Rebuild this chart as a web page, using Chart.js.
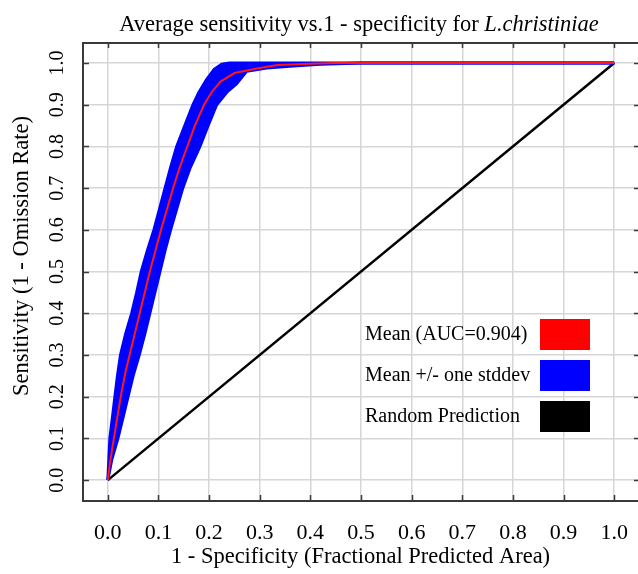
<!DOCTYPE html>
<html>
<head>
<meta charset="utf-8">
<script src="https://cdn.jsdelivr.net/npm/chart.js@4.4.0/dist/chart.umd.min.js"></script>
<style>
  html, body { margin: 0; padding: 0; background: #fff; }
  #wrap { width: 638px; height: 574px; }
</style>
</head>
<body>
<div id="wrap"><canvas id="roc_Chart" width="638" height="574"></canvas></div>
<script>
// tick values on both axes
const xTicks = [0, 0.1, 0.2, 0.3, 0.4, 0.5, 0.6, 0.7, 0.8, 0.9, 1.0];
const yTicks = [0, 0.1, 0.2, 0.3, 0.4, 0.5, 0.6, 0.7, 0.8, 0.9, 1.0];

// mean ROC curve (1 - specificity, sensitivity)
const meanX = [0, 0.004, 0.012, 0.02, 0.027, 0.035, 0.043, 0.053, 0.063, 0.073, 0.083, 0.094, 0.105, 0.117, 0.129, 0.142, 0.157, 0.172, 0.19, 0.205, 0.222, 0.25, 0.3, 0.335, 0.4, 0.45, 1.0];
const meanY = [0, 0.04, 0.1, 0.16, 0.21, 0.26, 0.3, 0.35, 0.4, 0.45, 0.5, 0.55, 0.6, 0.65, 0.7, 0.75, 0.8, 0.85, 0.9, 0.93, 0.955, 0.976, 0.988, 0.995, 0.998, 1.0, 1.0];

// mean + one stddev (left edge of the band)
const upperX = [0, 0.002, 0.004, 0.009, 0.014, 0.019, 0.025, 0.035, 0.047, 0.057, 0.066, 0.078, 0.091, 0.102, 0.113, 0.124, 0.136, 0.152, 0.168, 0.18, 0.195, 0.21, 0.225, 0.24, 1.0];
const upperY = [0, 0.05, 0.1, 0.15, 0.2, 0.25, 0.3, 0.35, 0.4, 0.45, 0.5, 0.55, 0.6, 0.65, 0.7, 0.75, 0.8, 0.85, 0.9, 0.93, 0.96, 0.985, 0.997, 1.0, 1.0];

// mean - one stddev (right edge of the band)
const lowerX = [0, 0.008, 0.02, 0.03, 0.04, 0.05, 0.062, 0.073, 0.083, 0.093, 0.103, 0.113, 0.124, 0.136, 0.148, 0.163, 0.182, 0.198, 0.215, 0.235, 0.254, 0.274, 0.314, 0.366, 0.42, 0.5, 1.0];
const lowerY = [0, 0.05, 0.1, 0.15, 0.2, 0.25, 0.3, 0.35, 0.4, 0.45, 0.5, 0.55, 0.6, 0.65, 0.7, 0.75, 0.8, 0.85, 0.9, 0.93, 0.95, 0.98, 0.988, 0.993, 0.997, 1.0, 1.0];

// random prediction
const randomX = [0, 1];
const randomY = [0, 1];

const seriesLabels = ['Mean (AUC=0.904)', 'Mean +/- one stddev', 'Random Prediction'];
const titleText = 'Average sensitivity vs.1 - specificity for ';
const titleSpecies = 'L.christiniae';
const xTitle = '1 - Specificity (Fractional Predicted Area)';
const yTitle = 'Sensitivity (1 - Omission Rate)';

const FONT = "'Liberation Serif', 'Times New Roman', serif";

const toPoints = (xs, ys) => xs.map((x, i) => ({x: x, y: ys[i]}));

// frame, inner tick marks, titles and legend
const rocDecor = {
  id: 'rocDecor',
  afterDraw(chart) {
    const ctx = chart.ctx;
    const a = chart.chartArea;
    const sx = chart.scales.x, sy = chart.scales.y;
    ctx.save();
    ctx.strokeStyle = '#3a3a3a';
    ctx.lineWidth = 2;
    ctx.beginPath();
    ctx.moveTo(a.left - 1, a.top);
    ctx.lineTo(a.right, a.top);
    ctx.stroke();

    ctx.lineWidth = 1.5;
    ctx.beginPath();
    xTicks.forEach(v => {
      const px = Math.round(sx.getPixelForValue(v)) + 0.5;
      ctx.moveTo(px, a.bottom); ctx.lineTo(px, a.bottom - 6);
      ctx.moveTo(px, a.top); ctx.lineTo(px, a.top + 5);
    });
    yTicks.forEach(v => {
      const py = Math.round(sy.getPixelForValue(v)) + 0.5;
      ctx.moveTo(a.left, py); ctx.lineTo(a.left + 6, py);
      ctx.moveTo(a.right, py); ctx.lineTo(a.right - 4, py);
    });
    ctx.stroke();

    // title with italic species name
    ctx.fillStyle = '#000';
    ctx.textBaseline = 'alphabetic';
    ctx.textAlign = 'left';
    ctx.font = '22.5px ' + FONT;
    const w1 = ctx.measureText(titleText).width;
    ctx.font = 'italic 22.5px ' + FONT;
    const w2 = ctx.measureText(titleSpecies).width;
    let tx = 359 - (w1 + w2) / 2;
    ctx.font = '22.5px ' + FONT;
    ctx.fillText(titleText, tx, 31);
    ctx.font = 'italic 22.5px ' + FONT;
    ctx.fillText(titleSpecies, tx + w1, 31);

    // y axis title
    ctx.save();
    ctx.translate(22, 256);
    ctx.rotate(-Math.PI / 2);
    ctx.font = '22.5px ' + FONT;
    ctx.textAlign = 'center';
    ctx.textBaseline = 'middle';
    ctx.fillText(yTitle, 0, 0);
    ctx.restore();

    // legend: text then colour box
    const items = chart.data.datasets.filter(d => d.label);
    ctx.font = '20px ' + FONT;
    ctx.textAlign = 'left';
    ctx.textBaseline = 'middle';
    items.forEach((d, i) => {
      const cy = 335 + i * 41;
      ctx.fillStyle = '#000';
      ctx.fillText(d.label, 365, cy);
      ctx.fillStyle = d.legendColor;
      ctx.fillRect(540, cy - 16, 50, 31);
    });
    ctx.restore();
  }
};

const ctx_roc = document.getElementById('roc_Chart').getContext('2d');
const myChartRoc = new Chart(ctx_roc, {
  type: 'line',
  data: {
    datasets: [{
      label: seriesLabels[0],
      legendColor: '#ff0000',
      data: toPoints(meanX, meanY),
      borderColor: '#ff1818',
      borderWidth: 2,
      pointRadius: 0,
      fill: false
    }, {
      label: seriesLabels[1],
      legendColor: '#0000ff',
      data: toPoints(upperX, upperY),
      borderColor: '#0000ff',
      backgroundColor: '#0000ff',
      borderWidth: 3,
      pointRadius: 0,
      fill: '+1'
    }, {
      label: '',
      data: toPoints(lowerX, lowerY),
      borderColor: '#0000ff',
      borderWidth: 3,
      pointRadius: 0,
      fill: false
    }, {
      label: seriesLabels[2],
      legendColor: '#000000',
      data: toPoints(randomX, randomY),
      borderColor: '#000000',
      borderWidth: 2.5,
      pointRadius: 0,
      fill: false
    }]
  },
  options: {
    responsive: false,
    animation: false,
    layout: { padding: { top: 43, right: 0, left: 0, bottom: 0 } },
    plugins: {
      legend: { display: false },
      tooltip: { enabled: false }
    },
    scales: {
      x: {
        type: 'linear',
        min: -0.049,
        max: 1.047,
        afterBuildTicks: s => { s.ticks = xTicks.map(v => ({value: v})); },
        afterFit: s => { s.height = 73; s.paddingLeft = 0; s.paddingRight = 0; },
        grid: { color: '#d6d6d6', lineWidth: 1.5, drawTicks: false },
        border: { color: '#3a3a3a', width: 2 },
        ticks: {
          padding: 19,
          color: '#000',
          font: { family: FONT, size: 22 },
          callback: v => v.toFixed(1)
        },
        title: {
          display: true,
          text: xTitle,
          color: '#000',
          font: { family: FONT, size: 22.5 },
          padding: { top: 0, bottom: 3 }
        }
      },
      y: {
        type: 'linear',
        min: -0.05,
        max: 1.048,
        afterBuildTicks: s => { s.ticks = yTicks.map(v => ({value: v})); },
        afterFit: s => { s.width = 83; s.paddingTop = 0; s.paddingBottom = 0; },
        grid: { color: '#d6d6d6', lineWidth: 1.5, drawTicks: false },
        border: { color: '#3a3a3a', width: 2 },
        ticks: {
          padding: 13,
          minRotation: 90,
          maxRotation: 90,
          crossAlign: 'center',
          color: '#000',
          font: { family: FONT, size: 20 },
          callback: v => v.toFixed(1)
        }
      }
    }
  },
  plugins: [rocDecor]
});
</script>
</body>
</html>
